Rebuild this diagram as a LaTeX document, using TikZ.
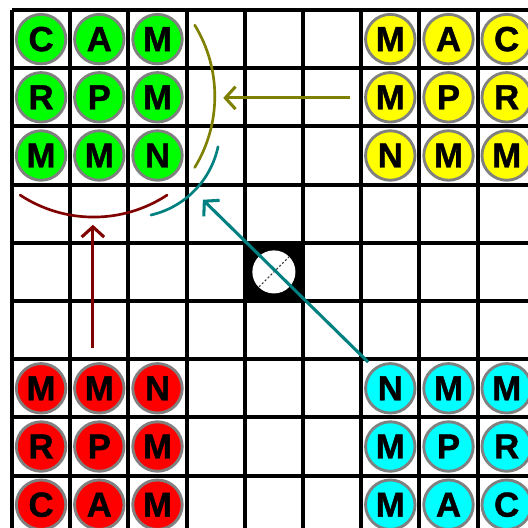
\documentclass[tikz,border=0pt]{standalone}
\usepackage{fontspec}
\setmainfont{Liberation Sans}
\newfontfamily\piecefont{Liberation Sans}[BoldFeatures={FakeBold=1.2}]
\usetikzlibrary{arrows.meta}
\definecolor{pcgreen}{RGB}{0,255,0}
\definecolor{pcyellow}{RGB}{255,255,0}
\definecolor{pcred}{RGB}{255,0,0}
\definecolor{pccyan}{RGB}{0,255,255}
\definecolor{ringgray}{RGB}{128,128,128}
\definecolor{mvolive}{RGB}{128,128,0}
\definecolor{mvteal}{RGB}{0,128,128}
\definecolor{mvmaroon}{RGB}{128,0,0}

\begin{document}
\begin{tikzpicture}[x=1cm, y=-1cm,
  piece/.style={circle, draw=ringgray, line width=1.4pt, minimum size=0.85cm,
                inner sep=0pt, text=black,
                font=\piecefont\fontsize{17}{17}\selectfont\bfseries},
  gridline/.style={line width=2pt, black},
  move/.style={-{Straight Barb[length=5pt, width=11pt]}, line width=1.5pt},
  reach/.style={line width=1.3pt, line cap=round}
]
  \useasboundingbox (-0.206,-0.172) rectangle (8.849,8.900);

  %% Board
  \fill[white] (-0.206,-0.172) rectangle (8.849,8.900);
  \draw[gridline] (0,0) grid (9,9);

  %% Centre square
  \fill[black] (4,4) rectangle (5,5);
  \node[circle, fill=white, minimum size=0.74cm, inner sep=0pt] (ctr) at (4.5,4.5) {};
  \draw[black!80, line width=0.5pt, dash pattern=on 1pt off 1pt] (ctr.45) -- (ctr.225);

  %% Green pieces (top left)
  \node[piece, fill=pcgreen] (g1) at (0.5,0.5) {C};
  \node[piece, fill=pcgreen] (g2) at (1.5,0.5) {A};
  \node[piece, fill=pcgreen] (g3) at (2.5,0.5) {M};
  \node[piece, fill=pcgreen] (g4) at (0.5,1.5) {R};
  \node[piece, fill=pcgreen] (g5) at (1.5,1.5) {P};
  \node[piece, fill=pcgreen] (g6) at (2.5,1.5) {M};
  \node[piece, fill=pcgreen] (g7) at (0.5,2.5) {M};
  \node[piece, fill=pcgreen] (g8) at (1.5,2.5) {M};
  \node[piece, fill=pcgreen] (g9) at (2.5,2.5) {N};

  %% Yellow pieces (top right)
  \node[piece, fill=pcyellow] (y1) at (6.5,0.5) {M};
  \node[piece, fill=pcyellow] (y2) at (7.5,0.5) {A};
  \node[piece, fill=pcyellow] (y3) at (8.5,0.5) {C};
  \node[piece, fill=pcyellow] (y4) at (6.5,1.5) {M};
  \node[piece, fill=pcyellow] (y5) at (7.5,1.5) {P};
  \node[piece, fill=pcyellow] (y6) at (8.5,1.5) {R};
  \node[piece, fill=pcyellow] (y7) at (6.5,2.5) {N};
  \node[piece, fill=pcyellow] (y8) at (7.5,2.5) {M};
  \node[piece, fill=pcyellow] (y9) at (8.5,2.5) {M};

  %% Red pieces (bottom left)
  \node[piece, fill=pcred] (r1) at (0.5,6.5) {M};
  \node[piece, fill=pcred] (r2) at (1.5,6.5) {M};
  \node[piece, fill=pcred] (r3) at (2.5,6.5) {N};
  \node[piece, fill=pcred] (r4) at (0.5,7.5) {R};
  \node[piece, fill=pcred] (r5) at (1.5,7.5) {P};
  \node[piece, fill=pcred] (r6) at (2.5,7.5) {M};
  \node[piece, fill=pcred] (r7) at (0.5,8.5) {C};
  \node[piece, fill=pcred] (r8) at (1.5,8.5) {A};
  \node[piece, fill=pcred] (r9) at (2.5,8.5) {M};

  %% Cyan pieces (bottom right)
  \node[piece, fill=pccyan] (c1) at (6.5,6.5) {N};
  \node[piece, fill=pccyan] (c2) at (7.5,6.5) {M};
  \node[piece, fill=pccyan] (c3) at (8.5,6.5) {M};
  \node[piece, fill=pccyan] (c4) at (6.5,7.5) {M};
  \node[piece, fill=pccyan] (c5) at (7.5,7.5) {P};
  \node[piece, fill=pccyan] (c6) at (8.5,7.5) {R};
  \node[piece, fill=pccyan] (c7) at (6.5,8.5) {M};
  \node[piece, fill=pccyan] (c8) at (7.5,8.5) {A};
  \node[piece, fill=pccyan] (c9) at (8.5,8.5) {C};

  %% Move ends
  \coordinate (ofrom) at (5.81,1.51);
  \coordinate (oto)   at (3.63,1.51);
  \coordinate (rfrom) at (1.39,5.81);
  \coordinate (rto)   at (1.39,3.69);
  \coordinate (tfrom) at (6.12,6.05);
  \coordinate (tto)   at (3.28,3.26);

  %% Reach arcs
  \draw[reach, mvolive]  (3.14,0.26) arc[start angle=-31.5, end angle=31.5, radius=2.34];
  \draw[reach, mvmaroon] (0.14,3.18) arc[start angle=123.3, end angle=56.7, radius=2.30];
  \draw[reach, mvteal]   (3.54,2.35) arc[start angle=12, end angle=77, radius=1.53];

  %% Moves
  \draw[move, mvolive]  (ofrom) -- (oto);
  \draw[move, mvmaroon] (rfrom) -- (rto);
  \draw[move, mvteal]   (tfrom) -- (tto);
\end{tikzpicture}
\end{document}
